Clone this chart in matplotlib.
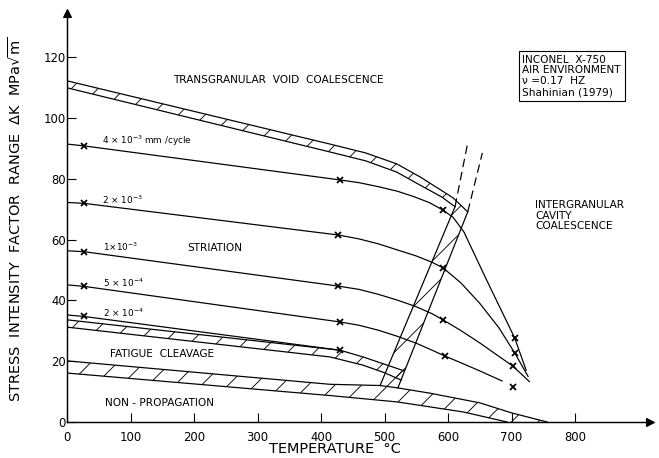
import numpy as np
import matplotlib.pyplot as plt

# Fracture mechanism map, Inconel X-750 in air (Shahinian 1979)

# --- band boundaries (temperature degC, delta K MPa sqrt m) ---
# transgranular void coalescence boundary
top_upper_T = [0, 414, 470, 519, 556, 590, 608, 631]
top_upper_K = [112.2, 91.4, 88.5, 84.9, 80.6, 76.1, 73.7, 69.1]
top_lower_T = [0, 414, 470, 519, 556, 590, 611]
top_lower_K = [109.9, 88.8, 85.9, 82.2, 77.9, 74.0, 70.8]

# inclined band towards intergranular cavity coalescence
cross_left_T = [493, 611]
cross_left_K = [12.0, 70.8]
cross_right_T = [521, 631]
cross_right_K = [11.2, 69.1]
dash_left_T = [611, 631]
dash_left_K = [70.8, 91.8]
dash_right_T = [631, 654]
dash_right_K = [69.1, 88.5]

# fatigue cleavage band
fc_upper_T = [0, 430, 466, 500, 531]
fc_upper_K = [33.6, 23.6, 21.4, 19.0, 16.8]
fc_lower_T = [0, 414, 466, 500, 526]
fc_lower_K = [31.2, 21.4, 18.7, 16.2, 13.8]

# non-propagation threshold band
np_upper_T = [0, 414, 493, 521, 571, 650, 700, 756]
np_upper_K = [20.1, 12.4, 12.0, 11.2, 9.5, 6.3, 3.0, 0.0]
np_lower_T = [0, 414, 520, 624, 693]
np_lower_K = [16.1, 8.7, 6.6, 3.3, 0.0]

# --- constant growth-rate lines ---
r4e3_T = [0, 27, 430, 460, 490, 520, 545, 570, 592, 608, 625, 660, 705, 723]
r4e3_K = [91.4, 90.8, 79.6, 78.7, 77.4, 75.9, 74.2, 72.2, 69.7, 67.3, 62.5, 47.0, 27.6, 17.0]
r4e3_mT = [27, 430, 592, 705]
r4e3_mK = [90.8, 79.6, 69.7, 27.6]

r2e3_T = [0, 27, 427, 460, 490, 520, 550, 575, 592, 620, 650, 680, 705, 726]
r2e3_K = [72.2, 71.9, 61.5, 60.2, 58.6, 56.6, 54.6, 52.5, 50.7, 45.8, 39.0, 31.0, 22.7, 15.0]
r2e3_mT = [27, 427, 592, 705]
r2e3_mK = [71.9, 61.5, 50.7, 22.7]

r1e3_T = [0, 27, 427, 460, 490, 520, 550, 575, 592, 620, 650, 680, 702, 728]
r1e3_K = [56.3, 56.0, 44.7, 43.6, 42.0, 40.1, 37.9, 35.6, 33.6, 30.1, 26.0, 21.6, 18.4, 13.3]
r1e3_mT = [27, 427, 592, 702]
r1e3_mK = [56.0, 44.7, 33.6, 18.4]

r5e4_T = [0, 27, 430, 460, 490, 520, 550, 575, 595, 620, 650, 685]
r5e4_K = [45.1, 44.6, 32.9, 31.8, 30.2, 28.2, 25.9, 23.6, 21.7, 19.5, 16.8, 13.5]
r5e4_mT = [27, 430, 595, 702]
r5e4_mK = [44.6, 32.9, 21.7, 11.6]

r2e4_T = [0, 27, 430]
r2e4_K = [35.2, 34.7, 23.6]
r2e4_mT = [27, 430]
r2e4_mK = [34.7, 23.6]

x_ticks = [0, 100, 200, 300, 400, 500, 600, 700, 800]
y_ticks = [0, 20, 40, 60, 80, 100, 120]

plt.rcParams['hatch.linewidth'] = 0.8
plt.rcParams['font.family'] = 'DejaVu Sans'

fig = plt.figure(figsize=(659 / 80, 458 / 80), dpi=80)
ax = fig.add_axes([67 / 659, 36 / 458, 583 / 659, 409 / 458])
ax.set_xlim(0, 918)
ax.set_ylim(0, 134.5)


def band(ax, uT, uK, lT, lK):
    # hatched region between an upper and a lower boundary
    xs = list(uT) + list(lT)[::-1]
    ys = list(uK) + list(lK)[::-1]
    ax.fill(xs, ys, facecolor='none', edgecolor='black', linewidth=0, hatch='/')


band(ax, top_upper_T, top_upper_K, top_lower_T, top_lower_K)
band(ax, cross_left_T, cross_left_K, cross_right_T, cross_right_K)
band(ax, fc_upper_T, fc_upper_K, fc_lower_T, fc_lower_K)
band(ax, np_upper_T, np_upper_K, np_lower_T, np_lower_K)

lw = 1.1
for T, K in [(top_upper_T, top_upper_K), (top_lower_T, top_lower_K),
             (cross_left_T, cross_left_K), (cross_right_T, cross_right_K),
             (fc_upper_T, fc_upper_K), (fc_lower_T, fc_lower_K),
             (np_upper_T, np_upper_K), (np_lower_T, np_lower_K)]:
    ax.plot(T, K, color='black', lw=lw)
ax.plot(dash_left_T, dash_left_K, color='black', lw=lw, ls=(0, (7, 4)))
ax.plot(dash_right_T, dash_right_K, color='black', lw=lw, ls=(0, (7, 4)))

rates = [(r4e3_T, r4e3_K, r4e3_mT, r4e3_mK),
         (r2e3_T, r2e3_K, r2e3_mT, r2e3_mK),
         (r1e3_T, r1e3_K, r1e3_mT, r1e3_mK),
         (r5e4_T, r5e4_K, r5e4_mT, r5e4_mK),
         (r2e4_T, r2e4_K, r2e4_mT, r2e4_mK)]
for T, K, mT, mK in rates:
    ax.plot(T, K, color='black', lw=lw)
    ax.plot(mT, mK, 'x', color='black', ms=5, mew=1.6)

# axes with arrow heads, no frame on top/right
for s in ['top', 'right']:
    ax.spines[s].set_visible(False)
for s in ['left', 'bottom']:
    ax.spines[s].set_linewidth(1.3)
ax.plot(1, 0, '>k', ms=8, transform=ax.transAxes, clip_on=False)
ax.plot(0, 1, '^k', ms=8, transform=ax.transAxes, clip_on=False)

ax.set_xticks(x_ticks)
ax.set_yticks(y_ticks)
ax.tick_params(direction='in', length=8, width=1, labelsize=10.5)
ax.tick_params(axis='x', pad=8)
ax.tick_params(axis='y', pad=1)

ax.set_xlabel('TEMPERATURE  °C', fontsize=13)
ax.xaxis.set_label_coords(0.46, -0.05)
ax.set_ylabel(r'STRESS  INTENSITY  FACTOR  RANGE  $\Delta$K  MPa$\sqrt{\mathrm{m}}$', fontsize=13)
ax.yaxis.set_label_coords(-0.074, 0.495)

# region and rate labels
fs = 9.5
ax.text(333, 112.5, 'TRANSGRANULAR  VOID  COALESCENCE', fontsize=fs, ha='center', va='center')
ax.text(55, 92.4, r'4 $\times$ 10$^{-3}$ mm /cycle', fontsize=8, va='center')
ax.text(55, 73.0, r'2 $\times$ 10$^{-3}$', fontsize=8, va='center')
ax.text(57, 57.6, r'1$\times$10$^{-3}$', fontsize=8, va='center')
ax.text(190, 57.2, 'STRIATION', fontsize=fs, va='center')
ax.text(57, 45.7, r'5 $\times$ 10$^{-4}$', fontsize=8, va='center')
ax.text(57, 35.9, r'2 $\times$ 10$^{-4}$', fontsize=8, va='center')
ax.text(68, 22.4, 'FATIGUE  CLEAVAGE', fontsize=fs, va='center')
ax.text(60, 6.3, 'NON - PROPAGATION', fontsize=fs, va='center')
ax.text(737, 72.9, 'INTERGRANULAR\nCAVITY\nCOALESCENCE', fontsize=fs,
        va='top', ha='left', linespacing=1.05)
ax.text(717, 120.8, 'INCONEL  X-750\nAIR ENVIRONMENT\nν =0.17  HZ\nShahinian (1979)',
        fontsize=9.5, va='top', ha='left', linespacing=1.1,
        bbox=dict(boxstyle='square,pad=0.35', facecolor='white', edgecolor='black', linewidth=1))

fig.savefig('out.png', dpi=80)
